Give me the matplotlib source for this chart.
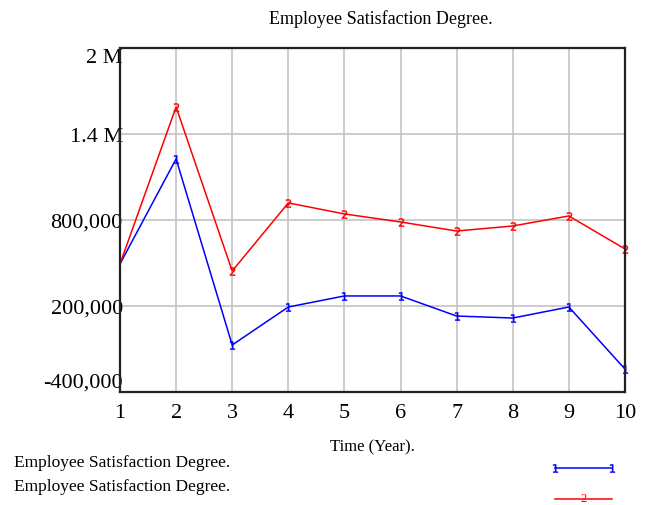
import matplotlib.pyplot as plt
from matplotlib.lines import Line2D

years = [1, 2, 3, 4, 5, 6, 7, 8, 9, 10]
run1 = [493000, 1226000, -72000, 193000, 270000, 270000, 130000, 116000, 193000, -240000]
run2 = [493000, 1588000, 444000, 919000, 842000, 786000, 723000, 758000, 828000, 598000]
y_ticks = [-400000, 200000, 800000, 1400000, 2000000]
y_labels = ['-400,000', '200,000', '800,000', '1.4 M', '2 M']
title = 'Employee Satisfaction Degree.'
legend_names = ['Employee Satisfaction Degree.', 'Employee Satisfaction Degree.']

plt.rcParams['font.family'] = ['Liberation Serif', 'DejaVu Serif']

fig = plt.figure(figsize=(6.51, 5.06), dpi=100)
ax = fig.add_axes([0.1843, 0.2233, 0.7757, 0.68])

# vensim style: numbered markers, none on the first point
ax.plot(years, run1, color='#0000ff', lw=1.1, marker='$1$', markersize=6,
        markeredgewidth=0.3, markevery=list(range(1, 10)), clip_on=False)
ax.plot(years, run2, color='#ff0000', lw=1.1, marker='$2$', markersize=6,
        markeredgewidth=0.3, markevery=list(range(1, 10)), clip_on=False)

ax.set_xlim(1, 10)
ax.set_ylim(-400000, 2000000)
ax.set_xticks(years)
ax.set_yticks(y_ticks)
ax.set_yticklabels(y_labels)
ax.grid(True, color='#c4c4c4', lw=1.2)
ax.set_axisbelow(True)
for s in ax.spines.values():
    s.set_linewidth(1.6)
    s.set_color('#222222')
ax.tick_params(axis='both', length=0, labelsize=16)
ax.tick_params(axis='y', pad=-2)
ax.tick_params(axis='x', pad=8)
lbls = ax.get_yticklabels()
lbls[0].set_va('bottom')
lbls[-1].set_va('top')

ax.set_xlabel('Time (Year).', fontsize=12, labelpad=12)
fig.text(0.585, 0.962, title, fontsize=13, ha='center', va='center')

# legend block at the bottom
fig.text(0.022, 0.085, legend_names[0], fontsize=12.5, va='center')
fig.text(0.022, 0.038, legend_names[1], fontsize=12.5, va='center')
fig.add_artist(Line2D([0.853, 0.94], [0.073, 0.073], transform=fig.transFigure,
                      color='#0000ff', lw=1.1, marker='$1$', markersize=6,
                      markeredgewidth=0.3, markevery=[0, 1]))
fig.add_artist(Line2D([0.853, 0.94], [0.012, 0.012], transform=fig.transFigure,
                      color='#ff0000', lw=1.1))
fig.text(0.896, 0.014, '2', color='#ff0000', fontsize=9, ha='center', va='center')

fig.savefig('out.png', dpi=100)
